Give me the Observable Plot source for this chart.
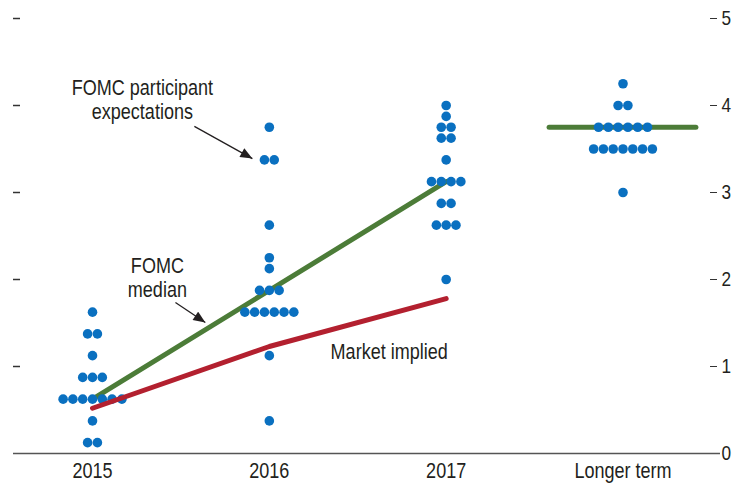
<!DOCTYPE html>
<html><head><meta charset="utf-8">
<script src="https://cdn.jsdelivr.net/npm/d3@7"></script>
<script src="https://cdn.jsdelivr.net/npm/@observablehq/plot@0.6"></script>
<style>
body{margin:0;background:#fff}
#chart svg{font-family:"Liberation Sans",Arial,sans-serif}
</style>
</head><body><div id="chart"></div>
<script>
// ---- data ----
const categories = ["2015", "2016", "2017", "Longer term"];
const proj2015 = [1.625, 1.375, 1.375, 1.125, 0.875, 0.875, 0.875,
  0.625, 0.625, 0.625, 0.625, 0.625, 0.625, 0.625, 0.375, 0.125, 0.125];
const proj2016 = [3.75, 3.375, 3.375, 2.625, 2.25, 2.125, 1.875, 1.875, 1.875,
  1.625, 1.625, 1.625, 1.625, 1.625, 1.625, 1.125, 0.375];
const proj2017 = [4.0, 3.875, 3.75, 3.75, 3.625, 3.625, 3.375, 3.125, 3.125, 3.125, 3.125,
  2.875, 2.875, 2.625, 2.625, 2.625, 2.0];
const projLonger = [4.25, 4.0, 4.0, 3.75, 3.75, 3.75, 3.75, 3.75, 3.75,
  3.5, 3.5, 3.5, 3.5, 3.5, 3.5, 3.5, 3.0];
const medianIndex = [0, 1, 2];
const medianValues = [0.625, 1.875, 3.125];
const longerTermMedian = 3.75;
const marketIndex = [0, 1, 2];
const marketValues = [0.52, 1.23, 1.78];
const yTicks = [0, 1, 2, 3, 4, 5];

// ---- build tables ----
const DOT_STEP = 0.0554; // horizontal spacing of dots within a row, in category units
const dots = [];
[proj2015, proj2016, proj2017, projLonger].forEach((arr, c) => {
  const counts = d3.rollup(arr, v => v.length, d => d);
  const seen = new Map();
  arr.forEach(v => {
    const n = counts.get(v), i = seen.get(v) || 0;
    seen.set(v, i + 1);
    dots.push({cat: c, value: v, off: i - (n - 1) / 2});
  });
});
const median = medianIndex.map((c, i) => ({cat: c, value: medianValues[i]}));
const market = marketIndex.map((c, i) => ({cat: c, value: marketValues[i]}));
const longer = [{cat: 3, value: longerTermMedian}];

const notes = [
  {cat: 0.282, value: 4.07, text: "FOMC participant\nexpectations"},
  {cat: 0.367, value: 2.03, text: "FOMC\nmedian"},
  {cat: 1.678, value: 1.17, text: "Market implied"}
];
const arrows = [
  {x1: 0.576, y1: 3.76, x2: 0.904, y2: 3.39},
  {x1: 0.469, y1: 1.736, x2: 0.638, y2: 1.506}
];

const ink = "#231f20";
const chart = Plot.plot({
  width: 736, height: 487,
  marginTop: 18, marginBottom: 34, marginLeft: 20, marginRight: 27,
  style: {fontSize: "22px", color: ink, background: "#fff"},
  x: {type: "linear", domain: [0, 3], range: [92, 622.5], label: null},
  y: {domain: [0, 5], label: null},
  marks: [
    Plot.axisY({anchor: "left", ticks: [1, 2, 3, 4, 5], tickSize: 7, tickFormat: () => "", label: null, stroke: "#333", strokeWidth: 1.5}),
    Plot.axisY({anchor: "right", ticks: yTicks, tickSize: 7, tickPadding: 5, tickFormat: d3.format("d"), label: null, fontSize: 21, stroke: "#333"}),
    Plot.axisX({ticks: [0, 1, 2, 3], tickFormat: i => categories[i], tickSize: 0, tickPadding: 9, label: null, fontSize: 22}),
    Plot.ruleY([0], {stroke: "#555", strokeWidth: 1.3, insetLeft: -7, insetRight: -11}),
    Plot.line(median, {x: "cat", y: "value", stroke: "#4c7c38", strokeWidth: 5, strokeLinecap: "round"}),
    Plot.ruleY(longer, {y: "value", x1: d => d.cat - 0.415, x2: d => d.cat + 0.415, stroke: "#4c7c38", strokeWidth: 5, strokeLinecap: "round"}),
    Plot.dot(dots, {x: d => d.cat + d.off * DOT_STEP, y: "value", r: 4.8, fill: "#0a70c0", stroke: "none"}),
    Plot.line(market, {x: "cat", y: "value", stroke: "#b3202f", strokeWidth: 5, strokeLinecap: "round"}),
    Plot.text(notes, {x: "cat", y: "value", text: "text", fill: ink, lineHeight: 1.1, fontSize: 22}),
    Plot.link(arrows, {x1: "x1", y1: "y1", x2: "x2", y2: "y2", stroke: ink, strokeWidth: 1.3})
  ]
});
document.getElementById("chart").appendChild(chart);

// narrow the glyphs (Arial Narrow look): scale each text horizontally about its anchor
chart.querySelectorAll("text").forEach(t => {
  let x = parseFloat(t.getAttribute("x"));
  if (!isFinite(x)) x = 0;
  const tr = t.getAttribute("transform") || "";
  t.setAttribute("transform", `${tr} translate(${x},0) scale(0.82,1) translate(${-x},0)`.trim());
});

// filled arrowheads on the annotation links
const ns = "http://www.w3.org/2000/svg";
const defs = document.createElementNS(ns, "defs");
const marker = document.createElementNS(ns, "marker");
marker.setAttribute("id", "ah");
marker.setAttribute("viewBox", "0 0 12 10");
marker.setAttribute("refX", "12");
marker.setAttribute("refY", "5");
marker.setAttribute("markerWidth", "13");
marker.setAttribute("markerHeight", "10");
marker.setAttribute("markerUnits", "userSpaceOnUse");
marker.setAttribute("orient", "auto");
const mp = document.createElementNS(ns, "path");
mp.setAttribute("d", "M0,0L12,5L0,10Z");
mp.setAttribute("fill", ink);
marker.appendChild(mp);
defs.appendChild(marker);
chart.insertBefore(defs, chart.firstChild);
chart.querySelectorAll('g[aria-label="link"] path').forEach(p => p.setAttribute("marker-end", "url(#ah)"));
</script>
</body></html>
